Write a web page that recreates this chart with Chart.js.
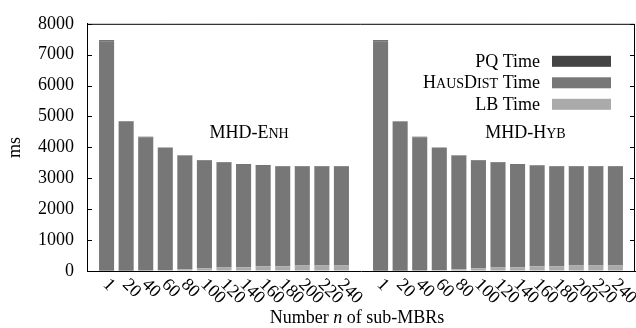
<!DOCTYPE html>
<html>
<head>
<meta charset="utf-8">
<script src="https://cdn.jsdelivr.net/npm/chart.js@4.4.1/dist/chart.umd.min.js"></script>
<style>
body { margin: 0; background: #fff; }
#wrap { width: 636px; height: 328px; }
</style>
</head>
<body>
<div id="wrap"><canvas id="chart"></canvas></div>
<script>
const subMBRs = [1, 20, 40, 60, 80, 100, 120, 140, 160, 180, 200, 220, 240];
const groupNames = ["MHD-Enh", "MHD-Hyb"];
const seriesNames = ["LB Time", "HausDist Time", "PQ Time"];

const enhLB = [5, 10, 15, 25, 55, 85, 115, 120, 150, 150, 180, 180, 180];
const enhHaus = [7425, 4820, 4315, 3960, 3680, 3490, 3395, 3320, 3260, 3235, 3200, 3200, 3200];
const enhPQ = [40, 15, 15, 15, 15, 15, 15, 20, 20, 15, 15, 15, 15];

const hybLB = [5, 10, 15, 25, 55, 85, 115, 120, 150, 150, 180, 180, 180];
const hybHaus = [7425, 4825, 4315, 3960, 3680, 3490, 3395, 3320, 3255, 3235, 3200, 3200, 3200];
const hybPQ = [40, 15, 15, 15, 15, 15, 15, 20, 20, 15, 15, 15, 15];

const yMin = 0;
const yMax = 8000;
const yStep = 1000;

const colors = ["#aaaaaa", "#777777", "#444444"];
const serif = "'Liberation Serif', 'Times New Roman', serif";
const fontSize = 18;
const smallCapWords = ["HausDist", "MHD-Enh", "MHD-Hyb"];

// empty slot at both ends and between the two groups
const labels = ["", ...subMBRs.map(String), "", ...subMBRs.map(String), ""];
function joinGroups(a, b) {
    return [null, ...a, null, ...b, null];
}

// draws text where listed words get small caps (lowercase -> smaller capitals)
function drawRich(ctx, text, x, y, align) {
    const parts = [];
    text.split(" ").forEach((word, i) => {
        if (i > 0) parts.push({ t: " ", small: false });
        if (smallCapWords.includes(word)) {
            for (const ch of word) {
                const small = ch !== ch.toUpperCase();
                const last = parts[parts.length - 1];
                if (last && last.small === small && last.t !== " ") last.t += ch.toUpperCase();
                else parts.push({ t: ch.toUpperCase(), small: small });
            }
        } else {
            parts.push({ t: word, small: false });
        }
    });
    let total = 0;
    parts.forEach(p => {
        ctx.font = (p.small ? fontSize * 0.78 : fontSize) + "px " + serif;
        p.w = ctx.measureText(p.t).width;
        total += p.w;
    });
    let cx = align === "right" ? x - total : align === "center" ? x - total / 2 : x;
    ctx.textAlign = "left";
    parts.forEach(p => {
        ctx.font = (p.small ? fontSize * 0.78 : fontSize) + "px " + serif;
        ctx.fillText(p.t, cx, y);
        cx += p.w;
    });
}

const decorations = {
    id: "decorations",
    afterDraw(chart) {
        const ctx = chart.ctx;
        const area = chart.chartArea;
        const xs = chart.scales.x;
        const ys = chart.scales.y;
        ctx.save();

        // top/right frame and inward ticks
        ctx.strokeStyle = "#000";
        ctx.lineWidth = 1;
        ctx.beginPath();
        ctx.moveTo(area.left, area.top + 0.5);
        ctx.lineTo(area.right - 0.5, area.top + 0.5);
        ctx.lineTo(area.right - 0.5, area.bottom);
        ys.ticks.forEach(t => {
            const py = Math.round(ys.getPixelForValue(t.value)) + 0.5;
            ctx.moveTo(area.left, py);
            ctx.lineTo(area.left + 5, py);
            ctx.moveTo(area.right, py);
            ctx.lineTo(area.right - 5, py);
        });
        ctx.stroke();

        ctx.fillStyle = "#000";
        ctx.textBaseline = "alphabetic";

        // group names
        drawRich(ctx, groupNames[0], xs.getPixelForValue(8.28), ys.getPixelForValue(4300), "center");
        drawRich(ctx, groupNames[1], xs.getPixelForValue(22.4), ys.getPixelForValue(4300), "center");

        // legend, top entry = last dataset
        const sets = chart.data.datasets.slice().reverse();
        sets.forEach((ds, i) => {
            const top = area.top + 32 + i * 21.5;
            ctx.fillStyle = ds.backgroundColor;
            ctx.fillRect(area.right - 83, top, 59, 11);
            ctx.fillStyle = "#000";
            drawRich(ctx, ds.label, area.right - 95, top + 11, "right");
        });

        // rotated x labels
        ctx.font = fontSize + "px " + serif;
        ctx.textAlign = "left";
        ctx.textBaseline = "middle";
        labels.forEach((lab, i) => {
            if (!lab) return;
            ctx.save();
            ctx.translate(xs.getPixelForValue(i) - 1, area.bottom + 11);
            ctx.rotate(Math.PI / 4);
            ctx.fillText(lab, 0, 0);
            ctx.restore();
        });

        // x axis title with italic n
        ctx.textBaseline = "alphabetic";
        const pieces = [["Number ", ""], ["n", "italic "], [" of sub-MBRs", ""]];
        let w = 0;
        pieces.forEach(p => { ctx.font = p[1] + fontSize + "px " + serif; w += ctx.measureText(p[0]).width; });
        let tx = (area.left + area.right) / 2 - 4 - w / 2;
        pieces.forEach(p => {
            ctx.font = p[1] + fontSize + "px " + serif;
            ctx.fillText(p[0], tx, 323);
            tx += ctx.measureText(p[0]).width;
        });
        ctx.restore();
    }
};

new Chart(document.getElementById("chart"), {
    type: "bar",
    data: {
        labels: labels,
        datasets: [
            { label: seriesNames[0], data: joinGroups(enhLB, hybLB), backgroundColor: colors[0] },
            { label: seriesNames[1], data: joinGroups(enhHaus, hybHaus), backgroundColor: colors[1] },
            { label: seriesNames[2], data: joinGroups(enhPQ, hybPQ), backgroundColor: colors[2] },
        ],
    },
    options: {
        responsive: true,
        maintainAspectRatio: false,
        animation: false,
        layout: { padding: { top: 17, right: 1, left: 0, bottom: 0 } },
        datasets: { bar: { barPercentage: 0.77, categoryPercentage: 1, borderWidth: 0 } },
        plugins: { legend: { display: false }, tooltip: { enabled: false } },
        scales: {
            x: {
                stacked: true,
                offset: false,
                grid: { display: true, drawOnChartArea: false, drawTicks: false },
                border: { display: true, color: "#000", width: 1 },
                ticks: { display: false },
                afterFit: s => { s.height = 57; },
            },
            y: {
                stacked: true,
                min: yMin,
                max: yMax,
                grid: { display: true, drawOnChartArea: false, drawTicks: false },
                border: { display: true, color: "#000", width: 1 },
                ticks: {
                    stepSize: yStep,
                    color: "#000",
                    padding: 13,
                    font: { family: serif, size: fontSize },
                    callback: v => String(v),
                },
                title: { display: true, text: "ms", color: "#000", font: { family: serif, size: fontSize } },
                afterFit: s => { s.width = 87; },
            },
        },
    },
    plugins: [decorations],
});
</script>
</body>
</html>
